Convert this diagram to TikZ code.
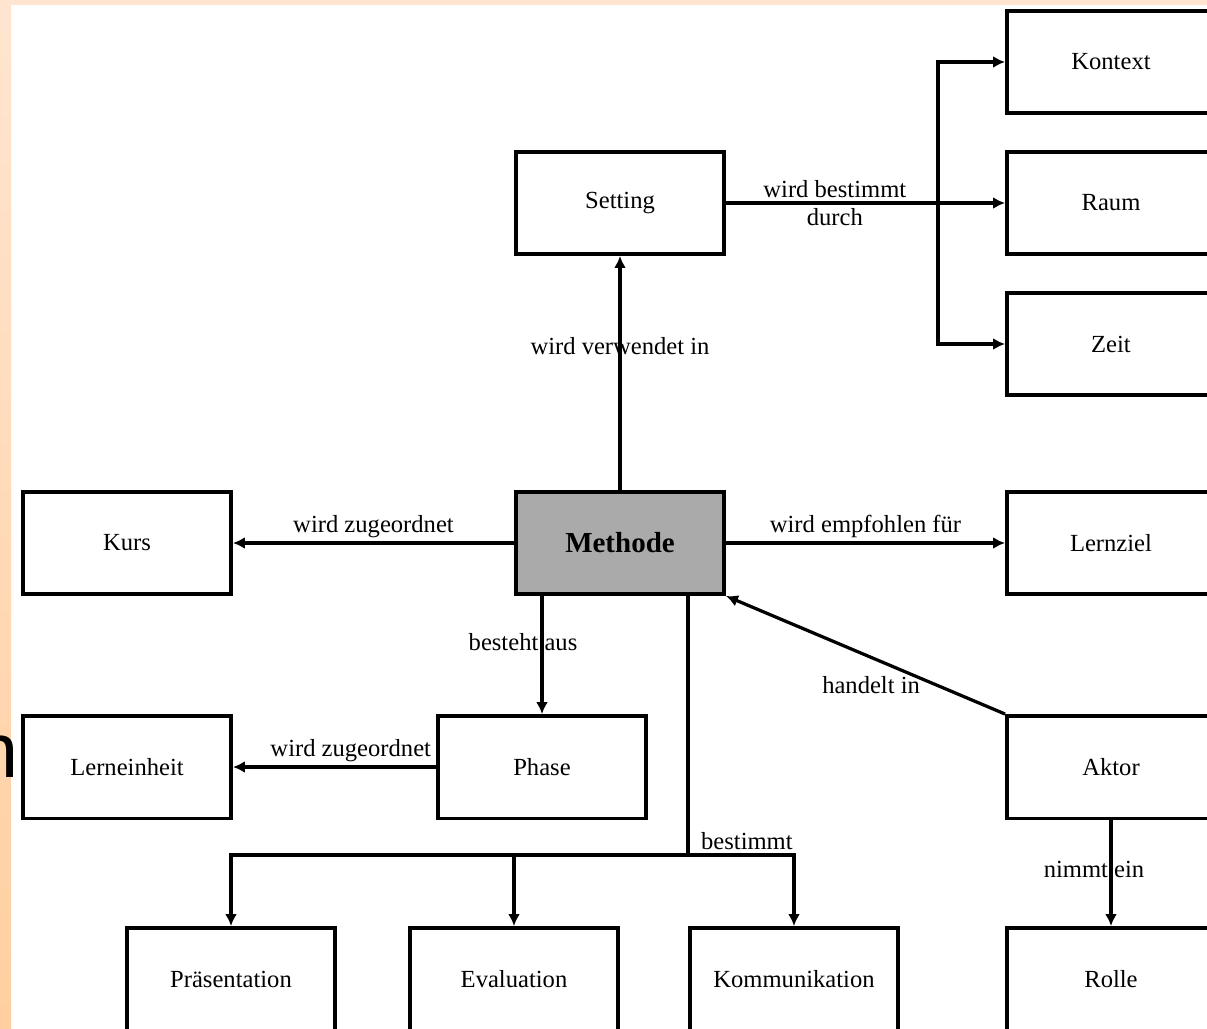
\documentclass[tikz,border=0pt]{standalone}
\usepackage{fontspec}
\setmainfont{Liberation Serif}
\newfontfamily\slidefont{Liberation Sans}
\usetikzlibrary{arrows.meta}
\definecolor{slidepeach}{RGB}{255,229,208}
\definecolor{slideorange}{RGB}{255,207,160}
\definecolor{methgray}{RGB}{170,170,170}

\begin{document}
\begin{tikzpicture}[
    x=0.02cm, y=-0.02cm,
    entity/.style={rectangle, draw, line width=0.07cm, minimum width=4.17cm, minimum height=2.05cm, inner sep=2pt, font=\fontsize{14}{16}\selectfont, fill=white},
    core/.style={entity, fill=methgray, font=\fontsize{16.5}{18}\selectfont\bfseries},
    link/.style={draw, line width=0.065cm},
    arr/.style={link, -{Latex[length=0.24cm, width=0.24cm]}},
    rel/.style={font=\fontsize{14}{16}\selectfont, inner sep=2pt}
]
  \useasboundingbox (0,0) rectangle (1207,1028);
  \clip (0,0) rectangle (1207,1028);
  % slide background
  \fill[slidepeach] (0,0) rectangle (1207,5);
  \shade[top color=slidepeach, bottom color=slideorange] (0,0) rectangle (11,1028);
  \node[anchor=base west, inner sep=0pt, font=\slidefont\fontsize{44}{44}\selectfont] (titlen) at (-25,777) {n};

  \node[entity] (kontext) at (1111,62) {Kontext};
  \node[entity] (raum) at (1111,203) {Raum};
  \node[entity] (zeit) at (1111,344) {Zeit};
  \node[entity] (setting) at (620,203) {Setting};
  \node[core] (methode) at (620,543) {Methode};
  \node[entity] (kurs) at (127,543) {Kurs};
  \node[entity] (lernziel) at (1111,543) {Lernziel};
  \node[entity] (lerneinheit) at (127,767) {Lerneinheit};
  \node[entity] (phase) at (542,767) {Phase};
  \node[entity] (aktor) at (1111,767) {Aktor};
  \node[entity] (praesentation) at (231,979) {Präsentation};
  \node[entity] (evaluation) at (514,979) {Evaluation};
  \node[entity] (kommunikation) at (794,979) {Kommunikation};
  \node[entity] (rolle) at (1111,979) {Rolle};

  % setting and its parts
  \coordinate (fork) at (938,203);
  \draw[arr] (setting) -- node[rel, align=center, pos=0.39] {wird bestimmt\\durch} (raum);
  \draw[arr] (fork) |- (kontext);
  \draw[arr] (fork) |- (zeit);
  \draw[arr] (methode) -- node[rel, pos=0.615] {wird verwendet in} (setting);

  % methode
  \draw[arr] (methode) -- node[rel, above] {wird zugeordnet} (kurs);
  \draw[arr] (methode) -- node[rel, above] {wird empfohlen für} (lernziel);
  \draw[arr] (methode.south -| phase.north) -- node[rel, pos=0.39, xshift=-0.38cm] {besteht aus} (phase);
  \draw[arr] (phase) -- node[rel, above, pos=0.42] {wird zugeordnet} (lerneinheit);

  % bestimmt
  \coordinate (bus) at (688,855);
  \draw[link] (methode.south -| bus) -- node[rel, pos=1, anchor=south west, xshift=0.16cm] {bestimmt} (bus);
  \draw[arr] (bus) -| (praesentation);
  \draw[arr] (bus) -| (evaluation);
  \draw[arr] (bus) -| (kommunikation);

  % aktor
  \draw[arr] (aktor.north west) -- node[rel, pos=0.48, yshift=-0.56cm] {handelt in} (methode.south east);
  \draw[arr] (aktor) -- node[rel, pos=0.47, xshift=-0.34cm] {nimmt ein} (rolle);
\end{tikzpicture}
\end{document}
